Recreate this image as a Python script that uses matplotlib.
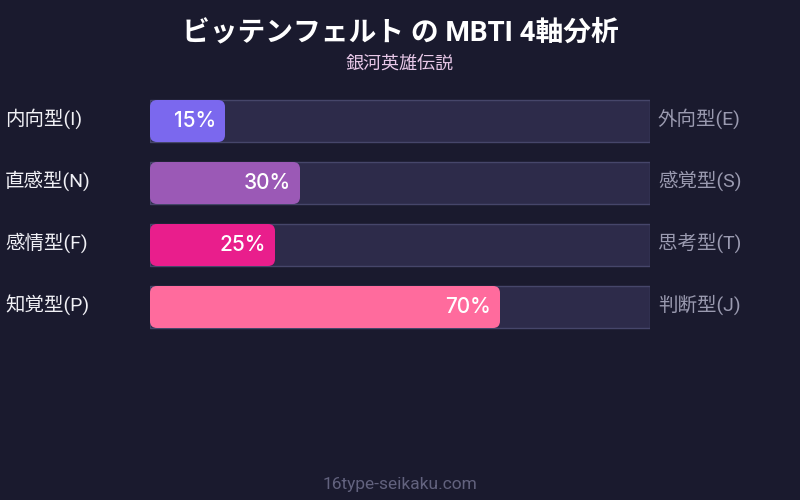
import matplotlib
matplotlib.use("Agg")
import matplotlib.pyplot as plt
from matplotlib.patches import FancyBboxPatch

title = "ビッテンフェルト の MBTI 4軸分析"
subtitle = "銀河英雄伝説"
footer = "16type-seikaku.com"
left_labels = ["内向型(I)", "直感型(N)", "感情型(F)", "知覚型(P)"]
right_labels = ["外向型(E)", "感覚型(S)", "思考型(T)", "判断型(J)"]
values = [15, 30, 25, 70]
colors = ["#7b68ee", "#9b59b6", "#e91e8c", "#ff6b9d"]

FONT = ["Roboto", "Noto Sans CJK JP", "DejaVu Sans"]
PCT_FONT = ["Inter", "DejaVu Sans"]
plt.rcParams["font.family"] = FONT

BG = "#1a1a2e"
fig = plt.figure(figsize=(8, 5), dpi=100, facecolor=BG)

W, H = 800, 500
x0, x1 = 150, 650
y_top, y_bot = 90, 338
ax = fig.add_axes([x0 / W, 1 - y_bot / H, (x1 - x0) / W, (y_bot - y_top) / H])
ax.set_facecolor("none")
ax.set_xlim(0, 100)
ax.set_ylim(len(values) - 0.5, -0.5)
ax.axis("off")

bh = 42 / 62
px_x = 100 / (x1 - x0)
px_y = 1 / 62
aspect = px_y / px_x
for i, (v, c) in enumerate(zip(values, colors)):
    ax.barh(i, 100, height=bh, color="#2d2b4a", edgecolor="#46466a", linewidth=1)
    p = FancyBboxPatch((0, i - bh / 2), v, bh,
                       boxstyle=f"round,pad=0,rounding_size={7 * px_x}",
                       mutation_aspect=aspect, facecolor=c, edgecolor="none")
    ax.add_patch(p)
    ax.text(v - 9 * px_x, i, f"{v}%", ha="right", va="center", color="white",
            fontsize=15, fontweight="medium", family=PCT_FONT)
    ax.text(-145 * px_x, i - 2 * px_y, left_labels[i], ha="left", va="center",
            color="#f0f0f5", fontsize=14)
    ax.text(100 + 8 * px_x, i - 2 * px_y, right_labels[i], ha="left", va="center",
            color="#9a9ab0", fontsize=14)

fig.text(0.5, 1 - 33 / H, title, ha="center", va="center", color="white",
         fontsize=20, fontweight="bold")
fig.text(0.5, 1 - 64 / H, subtitle, ha="center", va="center", color="#e8c8e8",
         fontsize=13)
fig.text(0.5, 1 - 484 / H, footer, ha="center", va="center", color="#62627e",
         fontsize=12.5)

fig.savefig("out.png", dpi=100, facecolor=BG)
